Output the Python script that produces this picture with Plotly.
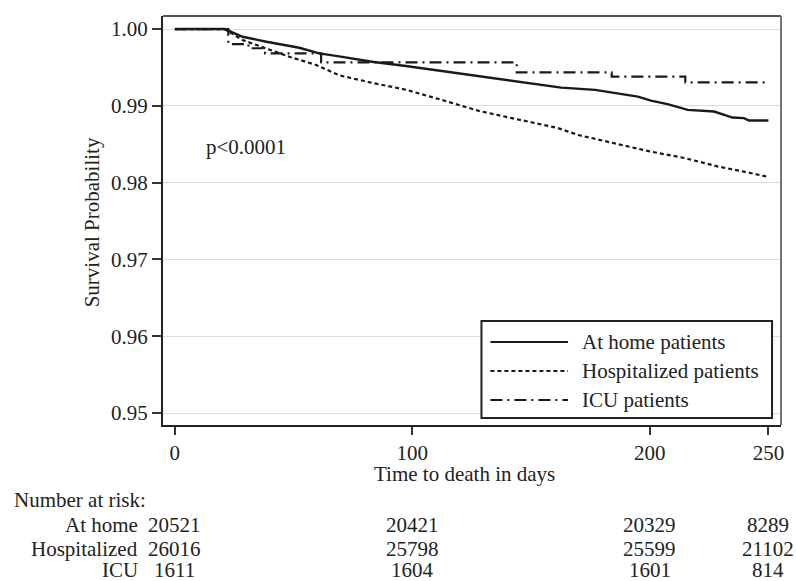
import plotly.graph_objects as go

# ---- data ----
home_days = [0, 21, 28.5, 38.6, 52.4, 60.8, 69.2, 83, 97.3, 111, 125, 132, 147.6, 162.7, 177,
             186.6, 195, 200.5, 207.5, 216, 221.5, 227.1, 232.7, 234.8, 239.7, 241.8, 250]
home_surv = [1.0, 1.0, 0.9990, 0.99835, 0.99757, 0.99684, 0.99645, 0.99575, 0.99519, 0.99459,
             0.99403, 0.99375, 0.99307, 0.99238, 0.99208, 0.99165, 0.99121, 0.99069, 0.99022,
             0.98948, 0.98939, 0.98926, 0.9887, 0.98848, 0.9884, 0.98809, 0.98809]

hosp_days = [0, 21, 28.5, 38.6, 48.2, 59.5, 69.2, 83, 97.3, 111, 128, 142, 161, 170,
             186.6, 200, 214.7, 228.5, 242.4, 250]
hosp_surv = [1.0, 1.0, 0.99857, 0.9975, 0.9964, 0.99532, 0.99398, 0.9930, 0.9921, 0.9909,
             0.98935, 0.9884, 0.98714, 0.9862, 0.98506, 0.98407, 0.98321, 0.98212, 0.98126, 0.98074]

icu_days = [0, 22.5, 31, 38, 61.6, 144, 184, 215, 250]
icu_surv = [1.0, 0.99805, 0.9975, 0.99684, 0.99565, 0.99435, 0.99381, 0.99307, 0.99307]

series_names = ["At home patients", "Hospitalized patients", "ICU patients"]
x_ticks = [0, 100, 200, 250]
y_ticks = [0.95, 0.96, 0.97, 0.98, 0.99, 1.00]

risk_labels = ["At home", "Hospitalized", "ICU"]
risk_home = [20521, 20421, 20329, 8289]
risk_hosp = [26016, 25798, 25599, 21102]
risk_icu = [1611, 1604, 1601, 814]

FONT = "Liberation Serif, Times New Roman, serif"
TXT = "#222222"
LINE = "#1a1a1a"

fig = go.Figure()
fig.add_trace(go.Scatter(x=home_days, y=home_surv, mode="lines", name=series_names[0],
                         line=dict(color=LINE, width=2.4, shape="linear"), showlegend=False))
fig.add_trace(go.Scatter(x=hosp_days, y=hosp_surv, mode="lines", name=series_names[1],
                         line=dict(color=LINE, width=2.2, dash="4px,3px", shape="linear"), showlegend=False))
fig.add_trace(go.Scatter(x=icu_days, y=icu_surv, mode="lines", name=series_names[2],
                         line=dict(color=LINE, width=2.2, dash="12px,5px,2px,5px", shape="hv"), showlegend=False))

# plot-area pixel geometry
L, R, T, B = 163, 784, 16, 425
W, H = R - L, B - T


def px(xp):
    return (xp - L) / W


def py(yp):
    return (B - yp) / H


def txt(**kw):
    d = dict(showarrow=False, borderpad=0, font=dict(family=FONT, size=21, color=TXT))
    d.update(kw)
    return d


shapes = []
# top and right frame
shapes.append(dict(type="line", xref="paper", yref="paper", x0=0, x1=1, y0=1, y1=1,
                   line=dict(color="#555555", width=1.8)))
shapes.append(dict(type="line", xref="paper", yref="paper", x0=1, x1=1, y0=0, y1=1,
                   line=dict(color="#666666", width=1.8)))
# legend box
shapes.append(dict(type="rect", xref="paper", yref="paper", x0=px(483), x1=px(775),
                   y0=py(418), y1=py(321), fillcolor="white",
                   line=dict(color="#222222", width=2), layer="above"))
legend_rows = [342, 371, 400]
dashes = ["solid", "4px,3px", "12px,5px,2px,5px"]
annotations = []
for name, row, d in zip(series_names, legend_rows, dashes):
    shapes.append(dict(type="line", xref="paper", yref="paper", x0=px(492), x1=px(570),
                       y0=py(row), y1=py(row), line=dict(color=LINE, width=2.2, dash=d),
                       layer="above"))
    annotations.append(txt(xref="paper", yref="paper", x=px(583), y=py(row), text=name,
                           xanchor="left", yanchor="middle"))

# p-value
annotations.append(txt(xref="x", yref="y", x=12.6, y=0.98468, text="p<0.0001",
                       xanchor="left", yanchor="middle"))
# axis titles
annotations.append(txt(xref="paper", yref="paper", x=px(466), y=py(474), text="Time to death in days",
                       xanchor="center", yanchor="middle"))
annotations.append(txt(xref="paper", yref="paper", x=px(92), y=py(222), text="Survival Probability",
                       xanchor="center", yanchor="middle", textangle=-90))
# risk table
annotations.append(txt(xref="paper", yref="paper", x=px(12), y=py(500), text="Number at risk:",
                       xanchor="left", yanchor="middle"))
risk_rows = [525, 549, 570]
for lab, vals, row in zip(risk_labels, [risk_home, risk_hosp, risk_icu], risk_rows):
    annotations.append(txt(xref="paper", yref="paper", x=px(139), y=py(row), text=lab,
                           xanchor="right", yanchor="middle"))
    for xv, v in zip(x_ticks, vals):
        annotations.append(txt(xref="x", yref="paper", x=xv, y=py(row), text=str(v),
                               xanchor="center", yanchor="middle"))

fig.update_layout(
    width=796, height=581,
    margin=dict(l=L, r=796 - R, t=T, b=581 - B),
    paper_bgcolor="white", plot_bgcolor="white",
    font=dict(family=FONT, size=21, color=TXT),
    shapes=shapes, annotations=annotations, showlegend=False,
)
fig.update_xaxes(range=[-5.0, 255.3], tickvals=x_ticks, ticks="outside", ticklen=8, tickwidth=1.6,
                 tickcolor="#333333", showline=True, linewidth=2.2, linecolor="#222222",
                 showgrid=False, zeroline=False, tickfont=dict(family=FONT, size=21, color=TXT))
fig.update_yaxes(range=[0.94845, 1.0017], tickvals=y_ticks, tickformat=".2f", ticks="outside",
                 ticklen=9, tickwidth=1.6, tickcolor="#333333", showline=True, linewidth=2.2,
                 linecolor="#222222", showgrid=True, gridcolor="#dcdcdc", gridwidth=1.2,
                 zeroline=False, tickfont=dict(family=FONT, size=21, color=TXT))

fig.write_html("out.html", config={"displayModeBar": False},
               post_script="document.body.style.margin='0';document.body.style.overflow='hidden';")
